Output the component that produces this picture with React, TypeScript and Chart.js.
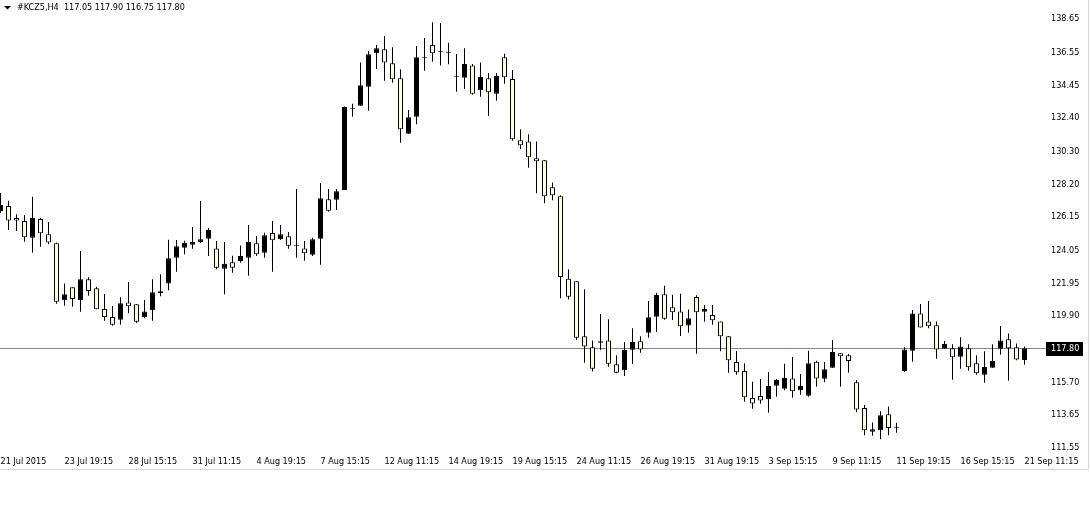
import React, { useEffect, useRef } from "react";
import { Chart, registerables } from "chart.js";

Chart.register(...registerables);

// ---- data ----
const SYMBOL = "#KCZ5,H4";

const OPEN = [
  126.46, 126.78, 126.02, 125.83, 124.77, 125.96, 124.99, 124.42, 120.82, 121.64,
  120.82, 122.15, 121.58, 120.27, 119.76, 119.59, 120.69, 120.57, 119.75, 120.19,
  121.39, 121.89, 123.51, 124.14, 124.33, 124.5, 124.71, 124.1, 122.82, 123.22,
  123.3, 123.51, 124.42, 123.83, 125.07, 124.67, 124.86, 124.23, 124.1, 123.7,
  124.71, 127.2, 127.17, 127.79, 132.92, 133.11, 134.31, 136.42, 136.68, 135.79,
  134.84, 131.34, 132.42, 136.11, 136.95, 136.49, 136.46, 134.94, 134.88, 135.66,
  134.09, 134.84, 133.87, 136.17, 134.8, 130.93, 130.86, 129.79, 129.66, 127.96,
  127.39, 122.18, 122.02, 118.55, 117.85, 118.14, 118.29, 116.78, 116.4, 117.7,
  118.23, 118.77, 119.78, 121.2, 120.38, 120.12, 119.23, 121.03, 120.1, 119.89,
  119.49, 118.55, 116.92, 116.35, 114.65, 114.78, 114.57, 115.42, 115.24, 115.89,
  115.14, 114.79, 116.94, 115.87, 116.56, 117.47, 117.35, 115.64, 114.02, 112.52,
  112.61, 113.62, 112.77, 116.35, 117.64, 119.98, 119.49, 119.24, 117.76, 117.79,
  117.26, 117.79, 116.84, 116.12, 116.56, 117.76, 118.36, 117.85, 117.05,
];
const HIGH = [
  127.6, 127.11, 126.25, 126.21, 127.36, 126.04, 125.77, 124.48, 121.89, 121.64,
  123.93, 122.27, 121.68, 121.22, 120.46, 121.01, 121.98, 120.57, 120.84, 122.15,
  122.46, 124.65, 124.63, 124.59, 125.45, 127.09, 125.39, 124.57, 124.5, 123.64,
  124.29, 125.58, 124.88, 125.09, 125.83, 125.58, 125.13, 127.85, 124.57, 124.77,
  128.23, 127.85, 127.85, 133.07, 133.24, 135.85, 136.57, 136.95, 137.52, 136.8,
  135.41, 132.84, 136.88, 137.39, 138.38, 138.34, 137.09, 136.38, 136.74, 135.75,
  135.85, 135.18, 135.18, 136.4, 135.37, 131.62, 131.31, 130.86, 129.66, 128.27,
  127.45, 122.78, 122.02, 121.52, 118.29, 119.95, 119.62, 117.35, 118.19, 119.05,
  118.55, 120.78, 121.3, 121.74, 121.17, 121.24, 120.24, 121.14, 120.52, 120.52,
  119.49, 118.55, 117.62, 116.84, 115.68, 115.85, 116.29, 115.85, 116.81, 117.24,
  116.16, 117.64, 117.0, 116.92, 118.31, 117.47, 117.43, 115.79, 114.21, 113.11,
  113.81, 114.12, 113.09, 117.85, 120.21, 120.59, 120.78, 119.49, 118.25, 118.04,
  118.48, 118.04, 117.35, 117.6, 118.04, 119.2, 118.73, 118.1, 117.9,
];
const LOW = [
  126.33, 125.26, 125.2, 124.52, 123.83, 124.21, 124.36, 120.61, 120.48, 120.42,
  120.1, 121.11, 120.25, 119.53, 119.22, 119.28, 120.0, 119.39, 119.68, 119.53,
  121.07, 121.45, 122.63, 123.73, 124.08, 124.44, 123.62, 122.78, 121.2, 122.56,
  123.2, 122.37, 123.62, 123.51, 122.63, 124.63, 124.08, 123.51, 123.32, 123.62,
  123.07, 126.42, 126.52, 127.79, 132.42, 133.11, 132.8, 135.43, 134.69, 134.57,
  130.78, 131.34, 131.94, 135.32, 135.89, 135.66, 135.73, 133.99, 134.17, 133.81,
  133.68, 132.46, 133.43, 134.5, 130.9, 130.36, 129.2, 127.58, 126.95, 127.14,
  120.95, 120.88, 118.31, 116.88, 116.33, 117.68, 116.63, 116.21, 116.04, 116.8,
  117.51, 118.46, 118.82, 119.59, 119.58, 118.57, 118.77, 117.45, 119.47, 119.28,
  117.6, 116.25, 116.12, 114.42, 113.97, 114.29, 113.72, 114.73, 115.14, 114.67,
  114.86, 114.73, 115.36, 115.64, 116.56, 115.36, 116.25, 113.75, 112.29, 112.27,
  112.04, 112.29, 112.46, 116.29, 116.94, 119.11, 119.05, 117.13, 117.76, 115.8,
  116.5, 116.37, 116.12, 115.61, 116.56, 117.38, 115.74, 117.03, 116.75,
];
const CLOSE = [
  126.84, 125.87, 125.87, 124.8, 126.02, 125.05, 124.48, 120.73, 121.2, 120.9,
  122.15, 121.41, 120.25, 119.76, 119.28, 120.63, 120.44, 119.47, 120.12, 121.33,
  121.26, 123.47, 124.23, 124.44, 124.5, 124.67, 125.26, 122.88, 123.13, 122.88,
  123.62, 124.5, 123.73, 124.93, 124.61, 124.99, 124.27, 124.23, 123.79, 124.67,
  127.26, 126.48, 127.71, 133.03, 132.92, 134.4, 136.36, 136.74, 135.85, 134.78,
  131.62, 132.38, 136.17, 136.11, 136.42, 136.55, 136.46, 134.94, 135.75, 133.87,
  134.93, 133.96, 134.99, 134.91, 130.99, 130.61, 129.85, 129.6, 127.39, 127.45,
  122.29, 121.05, 118.46, 117.91, 116.5, 118.23, 116.82, 116.25, 117.68, 118.19,
  117.72, 119.75, 121.15, 119.66, 120.06, 119.18, 119.68, 120.06, 120.27, 119.56,
  118.55, 117.03, 116.27, 114.69, 114.31, 114.5, 115.41, 115.79, 115.91, 115.07,
  115.41, 116.84, 115.89, 116.46, 117.55, 117.28, 116.99, 113.93, 112.61, 112.67,
  113.56, 112.75, 112.77, 117.72, 119.98, 119.11, 119.18, 117.72, 118.06, 117.22,
  117.91, 116.59, 116.21, 116.61, 116.99, 118.29, 117.79, 117.09, 117.8,
];

const TIME_LABELS = [
  "21 Jul 2015", "23 Jul 19:15", "28 Jul 15:15", "31 Jul 11:15", "4 Aug 19:15",
  "7 Aug 15:15", "12 Aug 11:15", "14 Aug 19:15", "19 Aug 15:15", "24 Aug 11:15",
  "26 Aug 19:15", "31 Aug 19:15", "3 Sep 15:15", "9 Sep 11:15", "11 Sep 19:15",
  "16 Sep 15:15", "21 Sep 11:15",
];
const BARS_PER_LABEL = 8;

const PRICE_TICKS = [
  111.55, 113.65, 115.7, 117.8, 119.9, 121.95, 124.05, 126.15, 128.2, 130.3,
  132.4, 134.45, 136.55, 138.65,
];

// axis ranges
const Y_MIN = 111.05;
const Y_MAX = 139.79;
const X_MIN = -0.0625;
const X_MAX = 129.9375;

// styles
const BULL_FILL = "#000000";
const BEAR_FILL = "#FFFFE0";
const PRICE_LINE = "#7d8896";
const FONT_FAMILY = '"DejaVu Sans Condensed", "Liberation Sans", Arial, sans-serif';
const FONT_SIZE = 9;

const fmt = (v: number) => v.toFixed(2);

const decorPlugin = {
  id: "mtDecor",
  beforeDatasetsDraw(chart: any) {
    const { ctx, chartArea, scales } = chart;
    const last = CLOSE.length - 1;
    const y = Math.round(scales.y.getPixelForValue(CLOSE[last])) + 0.5;
    ctx.save();
    ctx.strokeStyle = PRICE_LINE;
    ctx.lineWidth = 1;
    ctx.beginPath();
    ctx.moveTo(chartArea.left, y);
    ctx.lineTo(chartArea.right + 6, y);
    ctx.stroke();
    ctx.restore();
  },
  afterDraw(chart: any) {
    const { ctx, chartArea, scales } = chart;
    const last = CLOSE.length - 1;
    const yc = Math.round(scales.y.getPixelForValue(CLOSE[last]));
    ctx.save();
    // current price box
    const bx = chartArea.right + 6;
    ctx.fillStyle = "#000";
    ctx.fillRect(bx, yc - 6, 37, 14);
    ctx.fillStyle = "#fff";
    ctx.font = `${FONT_SIZE}px ${FONT_FAMILY}`;
    ctx.textBaseline = "middle";
    ctx.textAlign = "left";
    ctx.fillText(fmt(CLOSE[last]), chartArea.right + 11, yc + 1);

    // header
    ctx.fillStyle = "#000";
    ctx.beginPath();
    ctx.moveTo(4, 6);
    ctx.lineTo(11, 6);
    ctx.lineTo(7.5, 9.5);
    ctx.closePath();
    ctx.fill();
    const header = `${SYMBOL}  ${fmt(OPEN[last])} ${fmt(HIGH[last])} ${fmt(LOW[last])} ${fmt(CLOSE[last])}`;
    ctx.fillText(header, 17, 8);

    // window frame
    ctx.strokeStyle = "#d6d6d6";
    ctx.lineWidth = 1;
    ctx.beginPath();
    ctx.moveTo(1088.5, 0);
    ctx.lineTo(1088.5, 469.5);
    ctx.lineTo(0, 469.5);
    ctx.stroke();
    ctx.restore();
  },
};

export default function App() {
  const ref = useRef<HTMLCanvasElement | null>(null);

  useEffect(() => {
    if (!ref.current) return;
    const idx = OPEN.map((_, i) => i);
    const font = { family: FONT_FAMILY, size: FONT_SIZE };
    const chart = new Chart(ref.current, {
      type: "bar",
      data: {
        datasets: [
          {
            label: "wick",
            data: idx.map((i) => ({ x: i, y: [LOW[i], HIGH[i]] })) as any,
            backgroundColor: "#000",
            borderWidth: 0,
            grouped: false,
            barPercentage: 1,
            categoryPercentage: 1,
            maxBarThickness: 1,
            inflateAmount: 0,
            order: 2,
          } as any,
          {
            label: "body",
            data: idx.map((i) => ({ x: i, y: [OPEN[i], CLOSE[i]] })) as any,
            backgroundColor: idx.map((i) => (CLOSE[i] >= OPEN[i] ? BULL_FILL : BEAR_FILL)),
            borderColor: "#000",
            borderWidth: 1,
            borderSkipped: false,
            grouped: false,
            barPercentage: 1,
            categoryPercentage: 1,
            maxBarThickness: 5,
            minBarLength: 1,
            inflateAmount: 0,
            order: 1,
          } as any,
        ],
      },
      options: {
        responsive: false,
        animation: false,
        devicePixelRatio: 1,
        events: [],
        layout: { padding: 0 },
        plugins: { legend: { display: false }, tooltip: { enabled: false } },
        scales: {
          x: {
            type: "linear",
            min: X_MIN,
            max: X_MAX,
            offset: false,
            grid: { display: false, drawTicks: false },
            border: { display: false },
            afterBuildTicks: (s: any) => {
              s.ticks = TIME_LABELS.map((_, k) => ({ value: k * BARS_PER_LABEL }));
            },
            ticks: {
              autoSkip: false,
              maxRotation: 0,
              minRotation: 0,
              align: "start",
              padding: 1,
              color: "#000",
              font,
              callback: (_v: any, i: number) => TIME_LABELS[i],
            },
            afterFit: (s: any) => {
              s.height = 530 - 455;
              s.paddingLeft = 0;
              s.paddingRight = 0;
            },
          } as any,
          y: {
            type: "linear",
            position: "right",
            min: Y_MIN,
            max: Y_MAX,
            grid: { display: false, drawTicks: false },
            border: { display: false },
            afterBuildTicks: (s: any) => {
              s.ticks = PRICE_TICKS.map((v) => ({ value: v }));
            },
            ticks: {
              autoSkip: false,
              padding: 11,
              labelOffset: 1,
              color: "#000",
              font,
              callback: (v: any) => fmt(Number(v)),
            },
            afterFit: (s: any) => {
              s.width = 50;
              s.paddingTop = 0;
              s.paddingBottom = 0;
            },
          } as any,
        },
      },
      plugins: [decorPlugin],
    });
    return () => chart.destroy();
  }, []);

  return (
    <div style={{ position: "fixed", left: 0, top: 0, width: 1090, height: 530, background: "#fff" }}>
      <canvas ref={ref} width={1090} height={530} style={{ width: 1090, height: 530, display: "block" }} />
    </div>
  );
}
